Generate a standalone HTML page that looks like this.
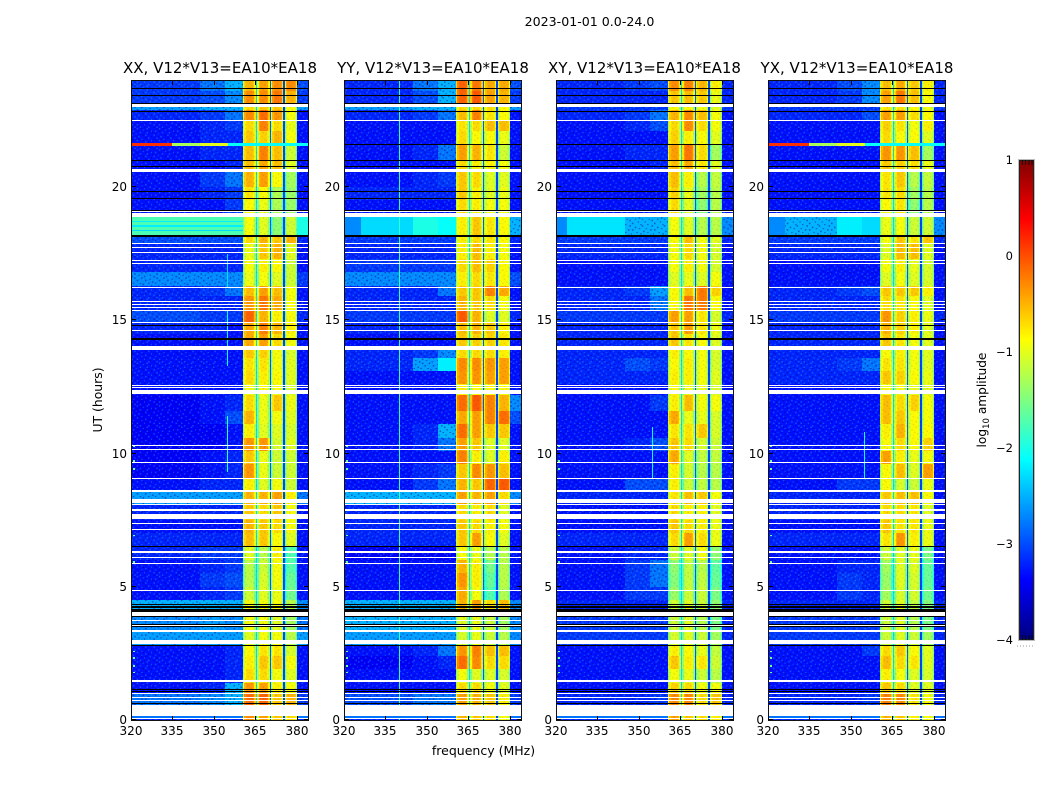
<!DOCTYPE html>
<html lang="en">
<head>
<meta charset="utf-8">
<title>Amplitude waterfall 2023-01-01</title>
<style>
html,body{margin:0;padding:0;background:#fff;width:1050px;height:800px;overflow:hidden}
svg{display:block}
text{font-family:"DejaVu Sans","Liberation Sans",sans-serif;fill:#000}
.cell{shape-rendering:crispEdges}
</style>
</head>
<body>
<svg id="chart" width="1050" height="800" viewBox="0 0 1050 800" xmlns="http://www.w3.org/2000/svg">
<defs>
<pattern id="speckle" patternUnits="userSpaceOnUse" width="16" height="16" patternTransform="scale(1.383 1.333)">
<path fill="#00008c" fill-opacity="0.5" shape-rendering="crispEdges" d="M1 0h1v1h-1zM6 0h1v1h-1zM12 1h1v1h-1zM3 2h1v1h-1zM9 2h1v1h-1zM14 3h1v1h-1zM0 4h1v1h-1zM5 4h1v1h-1zM11 4h1v1h-1zM7 5h1v1h-1zM2 6h1v1h-1zM13 6h1v1h-1zM9 7h1v1h-1zM4 8h1v1h-1zM15 8h1v1h-1zM0 9h1v1h-1zM7 9h1v1h-1zM11 10h1v1h-1zM3 11h1v1h-1zM14 11h1v1h-1zM6 12h1v1h-1zM9 12h1v1h-1zM1 13h1v1h-1zM12 14h1v1h-1zM4 14h1v1h-1zM8 15h1v1h-1zM15 15h1v1h-1z"/>
<path fill="#28b4ff" fill-opacity="0.38" shape-rendering="crispEdges" d="M3 0h1v1h-1zM10 0h1v1h-1zM7 1h1v1h-1zM0 2h1v1h-1zM13 2h1v1h-1zM5 3h1v1h-1zM10 3h1v1h-1zM2 4h1v1h-1zM15 5h1v1h-1zM9 5h1v1h-1zM4 6h1v1h-1zM11 7h1v1h-1zM1 7h1v1h-1zM6 8h1v1h-1zM13 9h1v1h-1zM3 9h1v1h-1zM9 10h1v1h-1zM0 11h1v1h-1zM6 11h1v1h-1zM12 12h1v1h-1zM3 13h1v1h-1zM15 13h1v1h-1zM8 13h1v1h-1zM1 15h1v1h-1zM5 15h1v1h-1zM11 15h1v1h-1z"/>
</pattern>
</defs>
<g id="panels"></g>
<g id="colorbar"></g>
<text x="589.5" y="26" font-size="12.6" text-anchor="middle">2023-01-01 0.0-24.0</text>
<text x="220" y="73" font-size="15" text-anchor="middle">XX, V12*V13=EA10*EA18</text>
<text x="433" y="73" font-size="15" text-anchor="middle">YY, V12*V13=EA10*EA18</text>
<text x="644.5" y="73" font-size="15" text-anchor="middle">XY, V12*V13=EA10*EA18</text>
<text x="857" y="73" font-size="15" text-anchor="middle">YX, V12*V13=EA10*EA18</text>
<text x="483.5" y="755" font-size="12.5" text-anchor="middle">frequency (MHz)</text>
<text x="102" y="400" font-size="12.4" text-anchor="middle" transform="rotate(-90 102 400)">UT (hours)</text>
<text x="986" y="400" font-size="12.2" text-anchor="middle" transform="rotate(-90 986 400)">log<tspan font-size="8.5" dy="3">10</tspan><tspan dy="-3"> amplitude</tspan></text>
</svg>
<script>
// Time block edges in hours (UT)
const blockEdges = [0,0.56,1,1.4,1.9,2.4,2.8,3.3,3.9,4.5,5,5.5,6,6.5,7,7.5,8.1,8.6,9.1,9.6,10.1,10.6,11.1,11.6,12.2,12.6,13.1,13.6,14,14.5,14.9,15.4,15.9,16.3,16.8,17.3,17.9,18.2,18.9,19.5,20,20.6,21,21.6,22.1,22.5,22.9,23.1,23.6,24];
// Off-band frequency ranges in MHz
const offBandRanges = [[320,345],[345,354],[354,360.5]];
const highBandRange = [380,384];
// Spectral windows in MHz
const windowRanges = [[360.5,365.1],[365.7,370.1],[370.7,374.9],[375.6,380]];
const gapRanges = [[365.1,365.7],[370.1,370.7],[374.9,375.6]];
const gapLevels = [-2.3,-2.95,-3.05];
// Bandpass roll-off per window, log10 offset across ten sub-channels
const windowRolloff = [-0.55,-0.15,-0.03,0,0,0,0,-0.03,-0.1,-0.45];
// Each row: bgLow, bgMid, bgHigh, window1..4, above-band (log10 amplitude), bottom-up
const levelsXX = [
[-3,-3,-3,-.3,-.4,-.6,-.7,-3],[-2.7,-2.6,-2.4,-.15,-.1,-.6,-.5,-2.9],[-3.1,-3,-2.4,-.35,-.4,-.8,-.9,-3.1],[-3.1,-3.1,-3,-.7,-.7,-.9,-1,-3.1],[-3.1,-3.1,-3,-.8,-.6,-.6,-.9,-3.1],[-3.1,-3.1,-3,-.85,-.75,-.75,-1.05,-3.1],[-2.5,-2.5,-2.5,-1,-.9,-.9,-1.2,-2.5],[-2.6,-2.5,-2.6,-.9,-.9,-1,-1.3,-2.7],[-2.4,-2.4,-2.4,-.9,-.9,-.9,-1.2,-2.6],[-3.1,-3,-2.9,-1.1,-1,-.95,-1.55,-3.1],
[-3.1,-2.9,-2.8,-1.2,-1.05,-.9,-1.6,-3.1],[-3.1,-3,-2.9,-1.2,-1.1,-.9,-1.7,-3.1],[-3,-2.9,-2.9,-1,-1.2,-.8,-1.7,-3.1],[-3,-3,-3,-.55,-.6,-.85,-1,-3.1],[-3.1,-3.1,-3.1,-.5,-.6,-.7,-.9,-3.1],[-3,-3,-3,-.6,-.7,-.6,-.9,-3.1],[-2.5,-2.5,-2.5,-.5,-.5,-.4,-.8,-2.7],[-3.1,-3,-3,-.8,-1,-.9,-1.1,-3.1],[-3.2,-3.1,-3,-.35,-.95,-1.1,-1.1,-3.1],[-3.2,-3.1,-3,-.6,-.95,-1.1,-1.1,-3.1],
[-3.2,-3.2,-3.1,-.35,-.35,-1.05,-1,-3.1],[-3.2,-3.2,-3.1,-.8,-1,-1,-1.05,-3.1],[-3.2,-3.1,-2.8,-.5,-.95,-.9,-1,-3.1],[-3.2,-3.1,-3,-.7,-.95,-.6,-.95,-3.1],[-3.1,-3.1,-3.1,-.9,-.85,-.9,-1.05,-3.1],[-3.1,-3.1,-3.1,-.7,-.8,-.85,-1,-3.1],[-3.1,-3.1,-3.1,-.75,-.75,-.9,-1,-3.1],[-3.1,-3.1,-3.1,-.6,-.65,-.9,-1.05,-3.1],[-3.1,-3.1,-3.1,-.45,-.4,-.7,-.9,-3.1],[-3,-3,-3.1,-.45,-.25,-.5,-.8,-3.1],
[-2.8,-2.9,-2.9,-.1,-.5,-.8,-.9,-3],[-3,-3,-3,-.35,-.2,-.45,-.9,-3.1],[-3,-2.9,-2.7,-.55,-.4,-.55,-.9,-3.1],[-2.6,-2.6,-2.6,-.95,-.9,-1,-1.1,-2.9],[-3,-3,-3,-.9,-.8,-.85,-1.1,-3.1],[-3,-3,-3,-.95,-.6,-.5,-1,-3.1],[-2.8,-2.8,-2.8,-.7,-.5,-.6,-.5,-3],[-1.75,-1.75,-1.75,-.9,-1,-1.4,-1.1,-2],[-3.1,-3.1,-2.9,-.85,-.95,-1.25,-1.35,-3.1],[-3.1,-3,-2.9,-.75,-.85,-1.25,-1.35,-3.1],
[-3.1,-2.9,-2.7,-.5,-.4,-.85,-1.3,-3.1],[-3.1,-3.1,-3,-.55,-.45,-.55,-1,-3.1],[-3.1,-3,-3,-.55,-.25,-.55,-1.1,-3.1],[-3.1,-3,-3,-.6,-.65,-.5,-.9,-3.1],[-3.1,-3,-2.9,-.7,-.25,-.7,-.95,-3.1],[-3,-2.9,-2.7,-.3,-.15,-.35,-.9,-3.1],[-2.5,-2.4,-2.4,-.7,-.6,-.6,-.9,-2.5],[-2.9,-2.8,-2.6,-.3,-.3,-.2,-.5,-2.9],[-2.9,-2.7,-2.4,-.5,-.4,-.3,-.3,-2.8]
];
const levelsYY = [
[-3,-3,-3,-.5,-.6,-.7,-.9,-3],[-2.8,-2.7,-2.7,-.4,-.5,-.6,-.8,-2.9],[-3.1,-3.1,-3.1,-.7,-.7,-.9,-1,-3.1],[-3.1,-3.1,-3.1,-.9,-1,-1,-1.05,-3.1],[-3.2,-3.1,-3,-.15,-.3,-.7,-.7,-3.1],[-3.1,-3,-2.7,-.35,-.25,-.55,-.55,-3.1],[-2.5,-2.5,-2.5,-1.05,-.95,-1.1,-1.2,-2.6],[-2.4,-2.4,-2.4,-1,-.95,-1.1,-1.3,-2.6],[-2.4,-2.4,-2.4,-.5,-.4,-.7,-.55,-2.6],[-3.1,-3.1,-3.1,-.45,-.9,-1.7,-1.25,-3.1],
[-3.1,-3.1,-3.1,-.35,-.8,-1.6,-1.2,-3.1],[-3.1,-3.1,-3.1,-.5,-.8,-1.5,-1.2,-3.1],[-3.2,-3.2,-3.2,-.9,-.95,-1.2,-1.2,-3.1],[-3,-3,-3,-.6,-.4,-.85,-1,-3.1],[-3,-3,-3,-.6,-.7,-.8,-.9,-3.1],[-3,-3,-3,-.7,-.8,-.7,-1,-3.1],[-2.4,-2.4,-2.4,-.4,-.5,-.4,-.7,-2.6],[-3.1,-2.9,-2.7,-.5,-.6,-.1,-.05,-3.1],[-3.1,-3,-2.9,-.6,-.3,-.35,-.55,-3.1],[-3.1,-3.1,-3.1,-.25,-.8,-1,-.8,-3.1],
[-3.1,-3,-2.7,-.4,-.6,-1,-1,-3.1],[-3.1,-3,-2.4,-.15,-.4,-.6,-.6,-3.1],[-3.1,-3.1,-3.1,-.45,-.4,-.25,-.15,-2.8],[-3.1,-3.1,-3.1,-.15,-.05,-.25,-.5,-2.6],[-3.1,-3.1,-3.1,-.8,-.85,-.85,-.85,-3.1],[-3.1,-3.1,-3.1,-.35,-.35,-.4,-.4,-3.1],[-3,-2.5,-2.2,-.3,-.3,-.35,-.4,-3.1],[-3,-2.9,-2.6,-.7,-.7,-.7,-.8,-3.1],[-3.1,-3.1,-3.1,-.6,-.65,-.65,-.75,-3.1],[-3,-3,-3,-.55,-.5,-.6,-.8,-3.1],
[-2.9,-2.9,-2.9,-.05,-.5,-1,-1,-3],[-3,-3,-3,-.5,-.6,-.7,-.9,-3.1],[-3,-3,-2.7,-.6,-.6,-.25,-.45,-3.1],[-2.6,-2.6,-2.6,-.8,-.7,-.75,-.85,-2.8],[-2.9,-2.9,-2.9,-.7,-.55,-.65,-.85,-3.1],[-3,-3,-3,-.8,-.55,-.8,-.9,-3.1],[-2.9,-2.9,-2.9,-.8,-.7,-.75,-.85,-3],[-2.3,-2,-2.1,-.8,-.6,-.75,-.85,-2.4],[-3.1,-3.1,-3.1,-.7,-.8,-.9,-.9,-3.1],[-3,-3,-3,-.6,-.8,-1,-.95,-3.1],
[-3.1,-3,-2.9,-.6,-.7,-1,-1,-3.1],[-3.1,-3.1,-3.1,-.7,-.8,-.8,-.9,-3.1],[-3.1,-3,-2.7,-.4,-.5,-.75,-1.1,-3.1],[-3.1,-3.1,-3.1,-.7,-.85,-.85,-.95,-3.1],[-3.1,-3.1,-3.1,-.75,-.7,-.55,-.55,-3.1],[-3,-2.9,-2.7,-.55,-.25,-.75,-.85,-3.1],[-2.5,-2.4,-2.4,-.7,-.7,-.7,-.85,-2.5],[-3,-2.8,-2.4,-.1,-.05,-.4,-.5,-2.9],[-3,-2.7,-2.4,-.1,-.2,-.45,-.45,-2.8]
];
const levelsXY = [
[-3,-3,-3,-.4,-.6,-.7,-.8,-3],[-3,-3,-2.9,-.3,-.3,-.7,-.6,-3],[-3.1,-3.1,-3.1,-.65,-.7,-.9,-.9,-3.1],[-3.1,-3.1,-3.1,-.9,-.95,-1.1,-1.2,-3.1],[-3.1,-3.1,-3.1,-.6,-.8,-.75,-1.1,-3.1],[-3.1,-3.1,-3.1,-.8,-.85,-.95,-1.15,-3.1],[-2.9,-2.9,-2.9,-1.05,-1,-1.1,-1.3,-3],[-2.9,-2.9,-2.9,-1.1,-1,-1.2,-1.5,-3],[-3,-3,-3,-1.1,-1,-1.1,-1.4,-3],[-3.1,-2.9,-2.9,-1.35,-1.1,-1.1,-1.5,-3.1],
[-3.1,-2.9,-2.7,-1.45,-1.15,-1.15,-1.6,-3.1],[-3.1,-2.9,-2.7,-1.4,-1.15,-1.2,-1.65,-3.1],[-3.1,-3,-3,-1.1,-1,-.9,-1.4,-3.1],[-3,-3,-3,-.7,-.4,-.7,-.95,-3.1],[-3.1,-3.1,-3.1,-.6,-.7,-.8,-.95,-3.1],[-3.1,-3.1,-3.1,-.7,-.8,-.8,-1,-3.1],[-3,-3,-3,-.75,-.55,-.6,-.9,-3.1],[-3.1,-2.8,-2.8,-.8,-1.1,-1.15,-1.2,-3.1],[-3.1,-3.1,-3.1,-.8,-1.05,-1.2,-1.2,-3.1],[-3.1,-3.1,-3.1,-.45,-1,-1.15,-1.15,-3.1],
[-3.1,-3,-2.8,-.6,-.7,-1.05,-1.1,-3.1],[-3.1,-3.1,-3.1,-.75,-.75,-.6,-1.05,-3.1],[-3.1,-3.1,-3.1,-.45,-.95,-.95,-1.05,-3.1],[-3.1,-3.1,-2.9,-.8,-.55,-.9,-.9,-3.1],[-3.1,-3.1,-3.1,-.85,-.95,-.95,-1.05,-3.1],[-3,-3,-3,-.8,-.8,-.9,-1,-3.1],[-3,-2.8,-2.9,-.85,-.8,-.9,-1.05,-3.1],[-3,-3,-3,-.8,-.85,-.9,-1.05,-3.1],[-3,-3,-3,-.6,-.75,-.85,-1,-3.1],[-3,-3,-3,-.6,-.4,-.75,-.95,-3.1],
[-2.9,-2.9,-2.9,-.4,-.4,-.75,-1.05,-3],[-3,-3,-2.7,-.85,-.2,-.2,-.85,-3.1],[-3,-2.9,-2.5,-.85,-.55,-.2,-.65,-3.1],[-3.1,-3.1,-3.1,-1,-.95,-1,-.9,-3.1],[-3.1,-3.1,-3.1,-.9,-.8,-.9,-1.05,-3.1],[-3,-3,-3,-.9,-.7,-.9,-1.05,-3.1],[-2.9,-2.9,-2.9,-.85,-.55,-.9,-1,-3],[-2.25,-2.4,-2.4,-.9,-1,-1.2,-1.2,-2.6],[-3.1,-3.1,-3.1,-.7,-1,-1.4,-1.2,-3.1],[-3.1,-3.1,-3.1,-.65,-.95,-1.3,-1.2,-3.1],
[-3.1,-3.1,-3.1,-.55,-.8,-1.2,-1.15,-3.1],[-3.1,-3.1,-3,-.55,-.45,-.75,-1,-3.1],[-3.1,-3,-3,-.4,-.2,-.7,-1.3,-3.1],[-3.1,-3.1,-3.1,-.65,-.8,-.85,-1,-3.1],[-3.1,-3,-2.8,-.7,-.3,-.7,-.9,-3.1],[-3,-2.9,-2.7,-.5,-.3,-.55,-.9,-3.1],[-2.9,-2.9,-2.9,-.85,-.85,-.9,-1,-2.9],[-3,-3,-3,-.6,-.55,-.6,-.95,-3],[-3,-2.9,-2.8,-.3,-.25,-.5,-.8,-3]
];
const levelsYX = [
[-3,-3,-3,-.5,-.6,-.8,-.9,-3],[-3,-3,-2.9,-.25,-.3,-.75,-.9,-3],[-3.1,-3.1,-3.1,-.6,-.7,-1,-1,-3.1],[-3.1,-3.1,-3.1,-.8,-.9,-1,-1.05,-3.1],[-3.1,-3.1,-3.1,-.55,-.7,-.75,-1,-3.1],[-3.1,-3.1,-2.9,-.7,-.6,-.85,-1,-3.1],[-2.9,-2.9,-2.9,-1.1,-1,-1.1,-1.3,-3],[-2.9,-2.9,-2.9,-1.1,-1,-1.2,-1.5,-3],[-3,-3,-3,-1.1,-1,-1.15,-1.45,-3],[-3.1,-2.9,-3,-1.3,-1.05,-1.05,-1.55,-3.1],
[-3.1,-2.9,-3,-1.35,-1,-1.05,-1.6,-3.1],[-3.1,-3,-3,-1.3,-1,-1,-1.6,-3.1],[-3.1,-3.1,-3.1,-1.1,-1,-.95,-1.5,-3.1],[-3,-3,-3,-.75,-.35,-.8,-.95,-3.1],[-3.1,-3.1,-3.1,-.6,-.75,-.75,-.95,-3.1],[-3,-3,-3,-.7,-.7,-.75,-1,-3.1],[-3,-3,-3,-.6,-.55,-.55,-.85,-3.1],[-3.1,-2.9,-2.9,-.85,-1.05,-1.1,-.95,-3.1],[-3.1,-3.1,-3.1,-.85,-.55,-1,-.4,-3.1],[-3.1,-3.1,-3.1,-.4,-.8,-.95,-.9,-3.1],
[-3.1,-3.1,-3.1,-.85,-.7,-.85,-.65,-3.1],[-3.1,-3.1,-3.1,-.8,-.5,-.85,-.85,-3.1],[-3.1,-3.1,-3.1,-.55,-.6,-.85,-.9,-3.1],[-3.1,-3.1,-3.1,-.55,-.7,-.65,-.9,-3.1],[-3.1,-3.1,-3.1,-.85,-.9,-.95,-1,-3.1],[-3,-3,-3,-.6,-.65,-.85,-.95,-3.1],[-3,-2.9,-2.7,-.75,-.75,-.9,-1,-3.1],[-3,-3,-3,-.85,-.8,-.9,-1,-3.1],[-3,-3,-3,-.6,-.75,-.9,-1,-3.1],[-3,-3,-3,-.5,-.65,-.8,-1,-3.1],
[-2.9,-2.9,-2.9,-.35,-.65,-.8,-.95,-3],[-3,-3,-3,-.7,-.75,-.85,-1,-3.1],[-3,-2.9,-2.8,-.6,-.6,-.6,-.8,-3.1],[-3.1,-3.1,-3.1,-1,-.9,-1,-1.05,-3.1],[-3.1,-3.1,-3.1,-.9,-.8,-.95,-1.05,-3.1],[-3,-3,-3,-1,-.55,-.55,-1,-3.1],[-2.9,-2.9,-2.9,-.9,-.6,-.75,-.6,-3],[-2.4,-2.2,-2.3,-.95,-.9,-1.1,-1.1,-2.6],[-3.1,-3.1,-3.1,-.85,-.75,-1.4,-1.2,-3.1],[-3.1,-3.1,-3.1,-.75,-.7,-1.3,-1.2,-3.1],
[-3.1,-3.1,-3.1,-.75,-.6,-1.2,-1.15,-3.1],[-3.1,-3.1,-3.1,-.6,-.65,-.7,-.95,-3.1],[-3.1,-3.1,-3.1,-.35,-.35,-.55,-1.3,-3.1],[-3.1,-3.1,-3.1,-.7,-.85,-.85,-1,-3.1],[-3.1,-3.1,-3.1,-.65,-.75,-.9,-.8,-3.1],[-3,-3,-2.8,-.4,-.4,-.7,-.85,-3.1],[-2.9,-2.9,-2.9,-.75,-.75,-.85,-.95,-2.9],[-3,-2.9,-2.6,-.4,-.2,-.55,-.85,-3],[-3,-2.8,-2.6,-.55,-.45,-.6,-.8,-3]
];
// Narrow interference: panel, t0, t1, f0, f1, level
const interferenceHits = [
[0,21.56,21.64,320,335,0.15],[0,21.56,21.64,335,345,-1.3],[0,21.56,21.64,345,355,-1],[0,21.56,21.64,355,384,-2.1],
[3,21.56,21.64,320,335,0.15],[3,21.56,21.64,335,345,-1.3],[3,21.56,21.64,345,355,-1],[3,21.56,21.64,355,384,-2.1],
[1,0,24,339.9,340.2,-1.9],
[0,9.3,11.4,354.6,354.9,-1.9],[0,16.2,17.5,354.6,354.9,-2.3],[0,13.3,15.4,354.6,354.9,-2.1],
[2,9.1,11,354.6,354.9,-2.1],[3,9.1,10.8,354.6,354.9,-2.1],
[1,18.2,18.87,320,326,-2.7],[2,18.2,18.87,320,324,-2.7],[3,18.2,18.87,320,326,-2.7],
[0,18.36,18.4,320,360.5,-2.3],[0,18.52,18.56,320,360.5,-2.2],[0,18.68,18.72,320,360.5,-2.2],
[0,0.086,0.16,320,360.5,-2.8],[1,0.086,0.16,320,360.5,-2.8],[2,0.086,0.16,320,360.5,-2.8],[3,0.086,0.16,320,360.5,-2.8],
[0,0.086,0.16,380,384,-2.8],[1,0.086,0.16,380,384,-2.8],[2,0.086,0.16,380,384,-2.8],[3,0.086,0.16,380,384,-2.8]
];
// Isolated hot samples in the first channels
const edgeSpeckHours = [1.75,2,2.3,2.55,5.9,6.9,9.4,9.7,10.25];
const edgeSpeckLevel = -1.6;
// Flagged time ranges in hours
const whiteFlags = [[0.03,0.086],[0.16,0.56],[0.72,0.76],[0.84,0.88],[0.97,1.01],[1.41,1.5],[2.86,3.02],[3.32,3.37],[3.51,3.55],[3.73,3.76],[3.9,4.04],[4.85,4.88],[5.85,5.88],[6.07,6.1],[6.26,6.34],[7.12,7.15],[7.37,7.4],[7.56,7.73],[7.83,7.93],[8.08,8.11],[8.14,8.3],[8.57,8.63],[9.05,9.08],[9.64,9.67],[10.14,10.17],[10.29,10.32],[12.22,12.37],[12.47,12.5],[12.55,12.58],[13.87,14.02],[14.61,14.64],[14.9,14.93],[15.35,15.38],[15.46,15.49],[15.57,15.6],[15.69,15.72],[16.23,16.26],[17.11,17.14],[17.22,17.25],[17.53,17.56],[17.72,17.75],[17.86,17.89],[18.87,19.03],[19.06,19.09],[20.55,20.66],[22.48,22.52],[23.02,23.1]];
const blackFlags = [[0.6,0.64],[1.06,1.1],[1.13,1.17],[2.76,2.83],[3.5,3.53],[3.58,3.61],[3.85,3.89],[4.07,4.11],[4.13,4.17],[4.19,4.23],[4.25,4.29],[4.31,4.35],[6.49,6.53],[14.27,14.35],[14.77,14.83],[18.12,18.2],[19.1,19.14],[19.55,19.59],[19.8,19.86],[20.74,20.78],[20.97,21.01],[22.83,22.87],[23.12,23.15],[23.43,23.47],[23.68,23.72]];
const panelBlackFlags = [[],[[21.58,21.62]],[[21.58,21.62]],[]];
// Axis ticks and labels
const freqTicks = [320,335,350,365,380];
const hourTicks = [0,5,10,15,20];
const colorTicks = [1,0,-1,-2,-3,-4];
const colorTickLabels = ["1","0","\u22121","\u22122","\u22123","\u22124"];
const panelNames = ["xx","yy","xy","yx"];
const panelLevels = [levelsXX,levelsYY,levelsXY,levelsYX];
const panelLefts = [131,344,556,768];

const SVGNS = "http://www.w3.org/2000/svg";
const FREQ_MIN = 320, FREQ_MAX = 384, HOUR_MAX = 24, PLOT_W = 177, PLOT_TOP = 80.5, PLOT_BOTTOM = 720;
const COLOR_MIN = -4, COLOR_MAX = 1, CB_X = 1019, CB_W = 15, CB_TOP = 160, CB_BOTTOM = 640;
const QUIET_THRESHOLD = -2.3;

function xScale(left, f){ return left + (f - FREQ_MIN) / (FREQ_MAX - FREQ_MIN) * PLOT_W; }
function yScale(t){ return PLOT_BOTTOM - t / HOUR_MAX * (PLOT_BOTTOM - PLOT_TOP); }
function cbScale(v){ return CB_BOTTOM - (v - COLOR_MIN) / (COLOR_MAX - COLOR_MIN) * (CB_BOTTOM - CB_TOP); }
function clamp(v){ return Math.max(0, Math.min(1, v)); }
function jet(level){
  const n = clamp((level - COLOR_MIN) / (COLOR_MAX - COLOR_MIN));
  const r = clamp(Math.min(4 * n - 1.5, -4 * n + 4.5));
  const g = clamp(Math.min(4 * n - 0.5, -4 * n + 3.5));
  const b = clamp(Math.min(4 * n + 0.5, -4 * n + 2.5));
  return "rgb(" + Math.round(r * 255) + "," + Math.round(g * 255) + "," + Math.round(b * 255) + ")";
}
function quiet(level){
  if (level < -2.7) return level - 0.2;
  if (level < QUIET_THRESHOLD) return level - 0.1;
  return level;
}
function node(tag, attrs, parent){
  const el = document.createElementNS(SVGNS, tag);
  for (const k in attrs) el.setAttribute(k, attrs[k]);
  parent.appendChild(el);
  return el;
}
function timeCell(parent, left, t0, t1, f0, f1, fill, minH){
  const x0 = Math.round(xScale(left, f0)), x1 = Math.round(xScale(left, f1));
  const top = Math.round(yScale(t1));
  const h = Math.max(minH, Math.round(yScale(t0)) - top);
  return node("rect", {x: x0, y: top, width: Math.max(1, x1 - x0), height: h, fill: fill, "class": "cell"}, parent);
}

const panelsRoot = document.getElementById("panels");
panelNames.forEach(function(name, p){
  const left = panelLefts[p];
  const g = node("g", {}, panelsRoot);
  
  
  const levels = panelLevels[p];

  function drawOffBand(parent, wantBright){
    levels.forEach(function(row, r){
      const t0 = blockEdges[r], t1 = blockEdges[r + 1];
      offBandRanges.forEach(function(range, c){
        if ((row[c] >= QUIET_THRESHOLD) !== wantBright) return;
        const cell = timeCell(parent, left, t0, t1, range[0], range[1], jet(quiet(row[c])), 1);
        
        
      });
      if ((row[7] >= QUIET_THRESHOLD) === wantBright) {
        const high = timeCell(parent, left, t0, t1, highBandRange[0], highBandRange[1], jet(quiet(row[7])), 1);
        
        
      }
    });
  }

  // Quiet off-band cells, then speckle, then bright off-band cells
  const offGroup = node("g", {}, g);
  
  
  drawOffBand(offGroup, false);

  const plotTopPx = Math.round(yScale(HOUR_MAX));
  const plotHeightPx = Math.round(PLOT_BOTTOM) - plotTopPx;
  const sp1 = node("rect", {x: left, y: plotTopPx, width: Math.round(xScale(left, 360.5)) - left, height: plotHeightPx, fill: "url(#speckle)"}, g);
  
  
  const sp2 = node("rect", {x: Math.round(xScale(left, 380)), y: plotTopPx, width: Math.round(xScale(left, 384)) - Math.round(xScale(left, 380)), height: plotHeightPx, fill: "url(#speckle)"}, g);
  
  

  const brightGroup = node("g", {}, g);
  
  
  drawOffBand(brightGroup, true);

  // Spectral window cells
  const bandGroup = node("g", {}, g);
  
  
  levels.forEach(function(row, r){
    const t0 = blockEdges[r], t1 = blockEdges[r + 1];
    windowRanges.forEach(function(range, w){
      const step = (range[1] - range[0]) / windowRolloff.length;
      windowRolloff.forEach(function(off, s){
        const cell = timeCell(bandGroup, left, t0, t1, range[0] + s * step, range[0] + (s + 1) * step, jet(row[3 + w] + off), 1);
        
        
      });
    });
    gapRanges.forEach(function(range, w){
      const cell = timeCell(bandGroup, left, t0, t1, range[0], range[1], jet(gapLevels[w]), 1);
      
      
    });
  });
  const bandNoise = node("rect", {x: Math.round(xScale(left, 360.5)), y: plotTopPx, width: Math.round(xScale(left, 380)) - Math.round(xScale(left, 360.5)), height: plotHeightPx, fill: "url(#speckle)", opacity: 0.22}, g);
  
  

  // Interference
  interferenceHits.filter(function(h){ return h[0] === p; }).forEach(function(h){
    const cell = timeCell(g, left, h[1], h[2], h[3], h[4], jet(h[5]), 1);
    
    
  });
  edgeSpeckHours.forEach(function(t){
    const cell = timeCell(g, left, t, t + 0.05, 320.7, 321.5, jet(edgeSpeckLevel), 1);
    
    
  });

  // Flags
  whiteFlags.forEach(function(f){
    const cell = timeCell(g, left, f[0], f[1], FREQ_MIN, FREQ_MAX, "#fff", 1);
    
    
  });
  blackFlags.concat(panelBlackFlags[p]).forEach(function(f){
    const cell = timeCell(g, left, f[0], f[1], FREQ_MIN, FREQ_MAX, "#000", 1);
    
    
  });

  // Frame
  const frame = node("rect", {x: left + 0.5, y: 80.5, width: PLOT_W, height: 640, fill: "none", stroke: "#111", "stroke-width": 1}, g);
  
  

  // Ticks
  freqTicks.forEach(function(f){
    const x = Math.round(xScale(left, f)) + 0.5;
    const a = node("line", {x1: x, x2: x, y1: 720, y2: 716, stroke: "#000"}, g);
    
    
    const b = node("line", {x1: x, x2: x, y1: 81, y2: 85, stroke: "#000"}, g);
    
    
    const label = node("text", {x: x - 0.5, y: 735, "font-size": 12, "text-anchor": "middle"}, g);
    label.textContent = String(f);
    
    
  });
  hourTicks.forEach(function(t){
    const y = Math.round(yScale(t)) - 0.5;
    const a = node("line", {x1: left + 1, x2: left + 5, y1: y, y2: y, stroke: "#000"}, g);
    
    
    const b = node("line", {x1: left + PLOT_W, x2: left + PLOT_W - 4, y1: y, y2: y, stroke: "#000"}, g);
    
    
    const label = node("text", {x: left - 4, y: y + 4.5, "font-size": 12, "text-anchor": "end"}, g);
    label.textContent = String(t);
    
    
  });
});

// Colorbar
const cb = document.getElementById("colorbar");
for (let i = 0; i < CB_BOTTOM - CB_TOP; i++) {
  const v0 = COLOR_MIN + i / (CB_BOTTOM - CB_TOP) * (COLOR_MAX - COLOR_MIN);
  const v1 = COLOR_MIN + (i + 1) / (CB_BOTTOM - CB_TOP) * (COLOR_MAX - COLOR_MIN);
  const seg = node("rect", {x: CB_X, y: cbScale(v1), width: CB_W, height: cbScale(v0) - cbScale(v1), fill: jet(v0), "class": "cell"}, cb);
  
  
}
const cbFrame = node("rect", {x: CB_X + 0.5, y: CB_TOP + 0.5, width: CB_W - 1, height: CB_BOTTOM - CB_TOP - 1, fill: "none", stroke: "#222", "stroke-width": 1}, cb);


const cbHalo = node("rect", {x: CB_X - 0.5, y: CB_TOP - 0.5, width: CB_W + 1, height: CB_BOTTOM - CB_TOP + 1, fill: "none", stroke: "#bbb", "stroke-width": 1}, cb);


colorTicks.forEach(function(v, i){
  const label = node("text", {x: 1013, y: cbScale(v) + 4, "font-size": 11.5, "text-anchor": "end"}, cb);
  label.textContent = colorTickLabels[i];
  
  
});
[1022.5,1025.5,1029,1032].forEach(function(x){
  const a = node("line", {x1: x, x2: x, y1: CB_TOP, y2: CB_TOP + 5, stroke: "#000", "stroke-opacity": 0.7}, cb);
  
  
  const b = node("line", {x1: x, x2: x, y1: CB_BOTTOM, y2: CB_BOTTOM - 5, stroke: "#000", "stroke-opacity": 0.7}, cb);
  
  
});
const dots = node("line", {x1: 1017, x2: 1035, y1: 646, y2: 646, stroke: "#999", "stroke-dasharray": "1 2"}, cb);


</script>
</body>
</html>
